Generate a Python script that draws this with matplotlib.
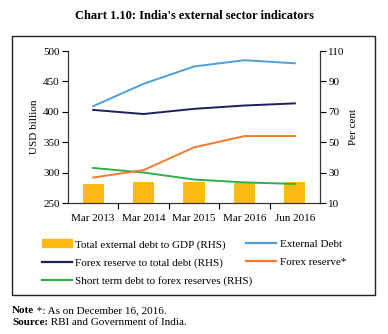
import numpy as np
import matplotlib
matplotlib.use("Agg")
import matplotlib.pyplot as plt
from matplotlib.patches import Rectangle, Patch
from matplotlib.lines import Line2D

plt.rcParams['font.family'] = ['Liberation Serif', 'DejaVu Serif']

periods = ['Mar 2013', 'Mar 2014', 'Mar 2015', 'Mar 2016', 'Jun 2016']
# USD billion (left axis)
external_debt = [409.4, 446.2, 474.7, 485.0, 479.9]
forex_reserve = [292.0, 304.2, 341.6, 360.2, 360.3]
# per cent (right axis)
debt_to_gdp = [22.4, 23.9, 23.8, 23.4, 23.8]
reserve_to_debt = [71.3, 68.6, 72.0, 74.2, 75.6]
short_to_reserve = [33.1, 30.1, 25.5, 23.6, 22.6]

c_bar = '#FDBA12'
c_ext = '#4F9ED9'
c_navy = '#1C1F5A'
c_orange = '#F27B2D'
c_green = '#2DB04B'

fig = plt.figure(figsize=(3.88, 3.34), dpi=100)
fig.patch.set_facecolor('white')

x = np.arange(len(periods))
ax = fig.add_axes([0.175, 0.392, 0.65, 0.455])
ax2 = ax.twinx()
ax.set_zorder(ax2.get_zorder() + 1)
ax.patch.set_visible(False)

ax2.bar(x, debt_to_gdp, width=0.42, color=c_bar, zorder=1)
ax2.plot(x, reserve_to_debt, color=c_navy, lw=1.4)
ax2.plot(x, short_to_reserve, color=c_green, lw=1.4)
ax.plot(x, external_debt, color=c_ext, lw=1.4)
ax.plot(x, forex_reserve, color=c_orange, lw=1.4)

ax.set_xlim(-0.5, len(periods) - 0.5)
ax.set_ylim(250, 500)
ax.set_yticks(np.arange(250, 501, 50))
ax2.set_ylim(10, 110)
ax2.set_yticks(np.arange(10, 111, 20))

ax.set_xticks(x)
ax.set_xticklabels(periods)
ax.set_xticks(np.arange(0.5, len(periods) - 1, 1), minor=True)
ax.tick_params(axis='x', which='major', length=0, pad=8, labelsize=8)
ax.tick_params(axis='x', which='minor', length=4, width=0.8, direction='out')
ax.tick_params(axis='y', length=4, width=0.8, labelsize=8, pad=2)
ax2.tick_params(axis='y', length=4, width=0.8, labelsize=8, pad=2)

for a in (ax, ax2):
    a.spines['top'].set_visible(False)
    for s in ('left', 'right', 'bottom'):
        a.spines[s].set_linewidth(0.8)
        a.spines[s].set_color('#333333')

ax.set_ylabel('USD billion', fontsize=8, labelpad=3)
ax2.set_ylabel('Per cent', fontsize=8, labelpad=3)

fig.text(0.5, 0.952, "Chart 1.10: India's external sector indicators",
         ha='center', va='center', fontsize=9, fontweight='bold')

# outer frame around chart and legend
fig.patches.append(Rectangle((0.031, 0.117), 0.935, 0.775, transform=fig.transFigure,
                             fill=False, edgecolor='#222222', lw=1.0))

left_handles = [Patch(color=c_bar), Line2D([], [], color=c_navy, lw=1.6),
                Line2D([], [], color=c_green, lw=1.6)]
left_labels = ['Total external debt to GDP (RHS)', 'Forex reserve to total debt (RHS)',
               'Short term debt to forex reserves (RHS)']
right_handles = [Line2D([], [], color=c_ext, lw=1.6), Line2D([], [], color=c_orange, lw=1.6)]
right_labels = ['External Debt', 'Forex reserve*']

common = dict(frameon=False, fontsize=8, handlelength=2.7, handletextpad=0.3,
              labelspacing=0.75, borderaxespad=0, borderpad=0, loc='upper left')
fig.legend(left_handles, left_labels, bbox_to_anchor=(0.108, 0.283), **common)
fig.legend(right_handles, right_labels, bbox_to_anchor=(0.635, 0.283), **common)

# footnotes: bold lead word followed by regular text
note = fig.text(0.031, 0.063, 'Note', fontsize=8, fontweight='bold', va='baseline')
src = fig.text(0.031, 0.027, 'Source:', fontsize=8, fontweight='bold', va='baseline')
ax.annotate(' *: As on December 16, 2016.', xy=(1, 0), xycoords=note,
            va='bottom', fontsize=8, annotation_clip=False)
ax.annotate(' RBI and Government of India.', xy=(1, 0), xycoords=src,
            va='bottom', fontsize=8, annotation_clip=False)

fig.savefig('out.png', dpi=100, facecolor='white')
